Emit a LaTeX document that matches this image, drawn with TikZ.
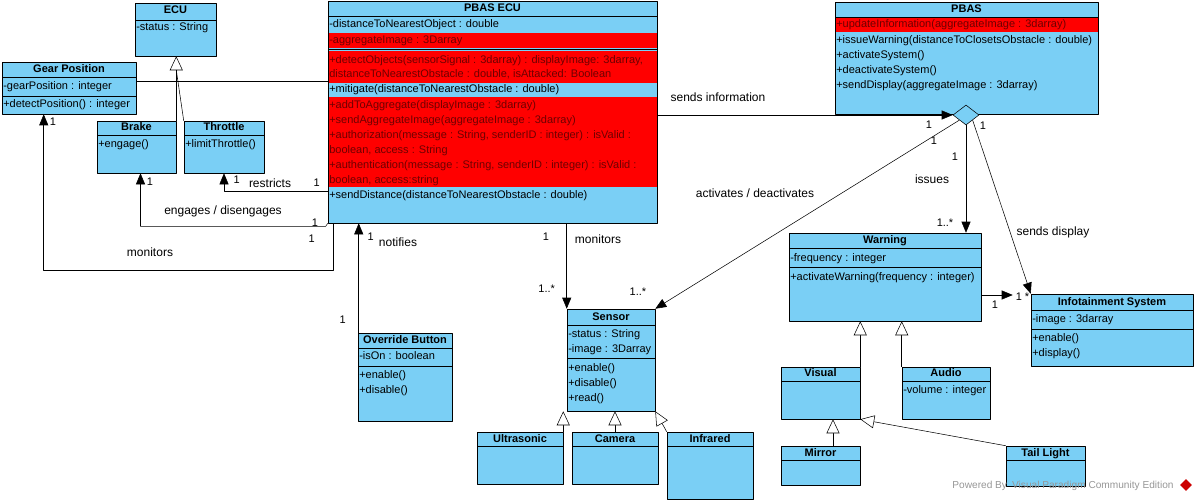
\documentclass[tikz,border=0pt]{standalone}
\usepackage{fontspec}
\setmainfont{Liberation Sans}
\usetikzlibrary{arrows.meta,shapes.geometric,fit,calc}
\definecolor{umlblue}{RGB}{122,207,245}
\definecolor{umlred}{RGB}{255,0,0}
\definecolor{umlredtext}{RGB}{110,0,0}
\definecolor{wmgray}{RGB}{150,150,150}
\begin{document}
\begin{tikzpicture}[x=0.75pt, y=-0.75pt, >={Triangle[width=6.75pt,length=8.25pt]}, line join=round,
  cls/.style={draw, fill=umlblue, inner sep=0pt},
  ttl/.style={font=\fontsize{8.25}{10}\selectfont\bfseries, inner sep=0pt, text height=6pt, text depth=1.75pt},
  att/.style={font=\fontsize{8.25}{10}\selectfont, anchor=west, inner sep=0pt, text height=6pt, text depth=1.75pt},
  hot/.style={att, text=umlredtext},
  lbl/.style={font=\fontsize{9}{11}\selectfont, inner sep=0pt},
  mul/.style={font=\fontsize{8.25}{10}\selectfont, inner sep=0pt},
  assoc/.style={->},
  gen/.style={-{Triangle[fill=white,width=9.75pt,length=10.5pt]}}]
\useasboundingbox (0,0) rectangle (1197,503);
% ECU
\node[cls, fit={(135,3) (216,56)}] (ecu) {};
\node[ttl] (ecu-t) at (175.5,11) {ECU};
\draw (135,20) -- (216,20);
\node[att] (ecu-a) at (136,28) {-status : String};
% Gear Position
\node[cls, fit={(2,62) (136,114)}] (gear) {};
\node[ttl] (gear-t) at (69,69.5) {Gear Position};
\draw (2,77) -- (136,77) (2,96) -- (136,96);
\node[att] (gear-a) at (3,86.5) {-gearPosition : integer};
\node[att] (gear-o) at (3,105) {+detectPosition() : integer};
% Brake, Throttle
\node[cls, fit={(97,121) (176,173)}] (brake) {};
\node[ttl] (brake-t) at (136.5,128) {Brake};
\draw (97,135) -- (176,135);
\node[att] (brake-o) at (98,145) {+engage()};
\node[cls, fit={(184,121) (264,173)}] (throttle) {};
\node[ttl] (throttle-t) at (224,128) {Throttle};
\draw (184,135) -- (264,135);
\node[att] (throttle-o) at (185,145) {+limitThrottle()};
% PBAS ECU
\node[cls, fit={(328,1) (657,223)}] (pecu) {};
\fill[umlred] (328.5,33) rectangle (656.5,47.7);
\fill[umlred] (328.5,51.5) rectangle (656.5,83);
\fill[umlred] (328.5,97) rectangle (656.5,187);
\node[ttl] (pecu-t) at (492.5,9) {PBAS ECU};
\draw (328,16) -- (657,16) (328,49.5) -- (657,49.5);
\node[att] (pecu-a1) at (329,25) {-distanceToNearestObject : double};
\node[hot] (pecu-a2) at (329,41) {-aggregateImage : 3Darray};
\node[hot] (pecu-o1) at (329,60.5) {+detectObjects(sensorSignal : 3darray) : displayImage: 3darray,};
\node[hot] (pecu-o1b) at (329,75) {distanceToNearestObstacle : double, isAttacked: Boolean};
\node[att] (pecu-o2) at (329,90) {+mitigate(distanceToNearestObstacle : double)};
\node[hot] (pecu-o3) at (329,106) {+addToAggregate(displayImage : 3darray)};
\node[hot] (pecu-o4) at (329,120.7) {+sendAggregateImage(aggregateImage : 3darray)};
\node[hot] (pecu-o5) at (329,135.7) {+authorization(message : String, senderID : integer) : isValid :};
\node[hot] (pecu-o5b) at (329,150.7) {boolean, access : String};
\node[hot] (pecu-o6) at (329,165.3) {+authentication(message : String, senderID : integer) : isValid :};
\node[hot] (pecu-o6b) at (329,180.3) {boolean, access:string};
\node[att] (pecu-o7) at (329,195.3) {+sendDistance(distanceToNearestObstacle : double)};
% PBAS
\node[cls, fit={(835,2) (1098,114)}] (pbas) {};
\fill[umlred] (835.5,17.5) rectangle (1097.5,32.3);
\node[ttl] (pbas-t) at (966.5,10) {PBAS};
\draw (835,17) -- (1098,17);
\node[hot] (pbas-o1) at (836,25) {+updateInformation(aggregateImage : 3darray)};
\node[att] (pbas-o2) at (836,40.7) {+issueWarning(distanceToClosetsObstacle : double)};
\node[att] (pbas-o3) at (836,55.3) {+activateSystem()};
\node[att] (pbas-o4) at (836,70.3) {+deactivateSystem()};
\node[att] (pbas-o5) at (836,86) {+sendDisplay(aggregateImage : 3darray)};
\node[diamond, draw, fill=umlblue, inner sep=0pt, minimum width=19.5pt, minimum height=15pt] (dia) at (966,115) {};
% Warning
\node[cls, fit={(789,233) (981,321)}] (warning) {};
\node[ttl] (warning-t) at (885,241) {Warning};
\draw (789,248.3) -- (981,248.3) (789,267.7) -- (981,267.7);
\node[att] (warning-a) at (790,258.3) {-frequency : integer};
\node[att] (warning-o) at (790,277.7) {+activateWarning(frequency : integer)};
% Infotainment System
\node[cls, fit={(1031,294) (1193,366)}] (info) {};
\node[ttl] (info-t) at (1112,302.3) {Infotainment System};
\draw (1031,310) -- (1193,310) (1031,329) -- (1193,329);
\node[att] (info-a) at (1032,319.3) {-image : 3darray};
\node[att] (info-o1) at (1032,338.3) {+enable()};
\node[att] (info-o2) at (1032,353.3) {+display()};
% Visual, Audio, Mirror, Tail Light
\node[cls, fit={(781,367) (860,419)}] (visual) {};
\node[ttl] (visual-t) at (820.5,374) {Visual};
\draw (781,381) -- (860,381);
\node[cls, fit={(902,367) (990,419)}] (audio) {};
\node[ttl] (audio-t) at (946,374) {Audio};
\draw (902,381) -- (990,381);
\node[att] (audio-a) at (903,391) {-volume : integer};
\node[cls, fit={(781,446) (860,485)}] (mirror) {};
\node[ttl] (mirror-t) at (820.5,453.3) {Mirror};
\draw (781,460.3) -- (860,460.3);
\node[cls, fit={(1006,446) (1085,486)}] (tail) {};
\node[ttl] (tail-t) at (1045.5,453.3) {Tail Light};
\draw (1006,460.3) -- (1085,460.3);
% Sensor
\node[cls, fit={(567,309) (655,411)}] (sensor) {};
\node[ttl] (sensor-t) at (611,317.3) {Sensor};
\draw (567,325) -- (655,325) (567,358.3) -- (655,358.3);
\node[att] (sensor-a1) at (568,334.3) {-status : String};
\node[att] (sensor-a2) at (568,349.3) {-image : 3Darray};
\node[att] (sensor-o1) at (568,368.7) {+enable()};
\node[att] (sensor-o2) at (568,383.7) {+disable()};
\node[att] (sensor-o3) at (568,398.3) {+read()};
% Override Button
\node[cls, fit={(358,333) (452,421)}] (ovr) {};
\node[ttl] (ovr-t) at (405,340.7) {Override Button};
\draw (358,348.3) -- (452,348.3) (358,366.7) -- (452,366.7);
\node[att] (ovr-a) at (359,357) {-isOn : boolean};
\node[att] (ovr-o1) at (359,376) {+enable()};
\node[att] (ovr-o2) at (359,391) {+disable()};
% Ultrasonic, Camera, Infrared
\node[cls, fit={(477,432) (563,484)}] (ultra) {};
\node[ttl] (ultra-t) at (520,439.3) {Ultrasonic};
\draw (477,446.7) -- (563,446.7);
\node[cls, fit={(572,432) (658,484)}] (camera) {};
\node[ttl] (camera-t) at (615,439.3) {Camera};
\draw (572,446.7) -- (658,446.7);
\node[cls, fit={(667,432) (753,499)}] (infra) {};
\node[ttl] (infra-t) at (710,439.3) {Infrared};
\draw (667,446.7) -- (753,446.7);
% generalizations
\draw[gen] (brake.north east) -- (brake.north east |- ecu.south);
\draw (throttle.north west) -- (brake.north east |- 0,70);
\draw[gen] (visual.north east) -- (visual.north east |- warning.south);
\draw[gen] (audio.north west) -- (audio.north west |- warning.south);
\coordinate (mup) at ($(mirror.north)+(12.5,0)$);
\draw[gen] (mup) -- (mup |- visual.south);
\draw[gen] (tail.north west) -- (visual.south east);
\draw[gen] (ultra.north east) -- (ultra.north east |- sensor.south);
\draw[gen] (camera.north) -- (camera.north |- sensor.south);
\draw[gen] (infra.north west) -- (sensor.south east);
% associations
\draw (gear.east |- 0,81) -- (pecu.west |- 0,81);
\draw[assoc] (pecu.west |- 0,191) -| (throttle.south);
\draw[assoc] (pecu.south west) -- ++(-2,3) -| ($(brake.south)+(4,0)$);
\draw[assoc] ($(pecu.south west)+(6,0)$) |- ($(gear.south west)+(42,156)$) -- ($(gear.south west)+(42,0)$);
\coordinate (nup) at ($(ovr.north west)+(1,0)$);
\draw[assoc] (nup) -- (nup |- pecu.south);
\draw[assoc] (sensor.north west |- pecu.south) -- (sensor.north west);
\draw[assoc] (pecu.east |- dia.west) -- (dia.west);
\draw[assoc] (dia.south west) -- (sensor.north east);
\draw[assoc] (dia.south) -- (dia.south |- warning.north);
\draw[assoc] (dia.south east) -- (info.north west);
\draw[assoc, shorten >=13.5pt] (warning.east |- 0,295) -- (info.west |- 0,295);
% labels
\node[lbl] (l-info) at (718,97) {sends information};
\node[lbl] (l-act) at (755,193) {activates / deactivates};
\node[lbl] (l-iss) at (932,179) {issues};
\node[lbl] (l-disp) at (1053,232) {sends display};
\node[lbl] (l-res) at (270,183.3) {restricts};
\node[lbl] (l-eng) at (223,211.7) {engages / disengages};
\node[lbl] (l-mon1) at (150,252.7) {monitors};
\node[lbl] (l-not) at (398,242) {notifies};
\node[lbl] (l-mon2) at (598,239) {monitors};
% multiplicities
\node[mul] (m1) at (929,125) {1};
\node[mul] (m2) at (934,141) {1};
\node[mul] (m3) at (955,157) {1};
\node[mul] (m4) at (983,126) {1};
\node[mul] (m5) at (945,223) {1..*};
\node[mul] (m6) at (638,292) {1..*};
\node[mul] (m7) at (1019,297) {1};
\node[mul] (m8) at (1027,297) {*};
\node[mul] (m9) at (995,305) {1};
\node[mul] (m10) at (53,121.7) {1};
\node[mul] (m11) at (150,181.7) {1};
\node[mul] (m12) at (236.7,179.3) {1};
\node[mul] (m13) at (316.7,182.7) {1};
\node[mul] (m14) at (315,222.7) {1};
\node[mul] (m15) at (311.7,238.3) {1};
\node[mul] (m16) at (370.7,236.7) {1};
\node[mul] (m17) at (342.7,319.3) {1};
\node[mul] (m18) at (546,237) {1};
\node[mul] (m19) at (546.7,289) {1..*};
% watermark
\node[mul, font=\fontsize{7.6}{9}\selectfont, text=wmgray] (wm) at (1063,486) {Powered By\,\,\,Visual Paradigm Community Edition};
\node[diamond, fill=umlred!80!black, inner sep=0pt, minimum size=9pt] (logo) at (1186,485) {};
\end{tikzpicture}
\end{document}
